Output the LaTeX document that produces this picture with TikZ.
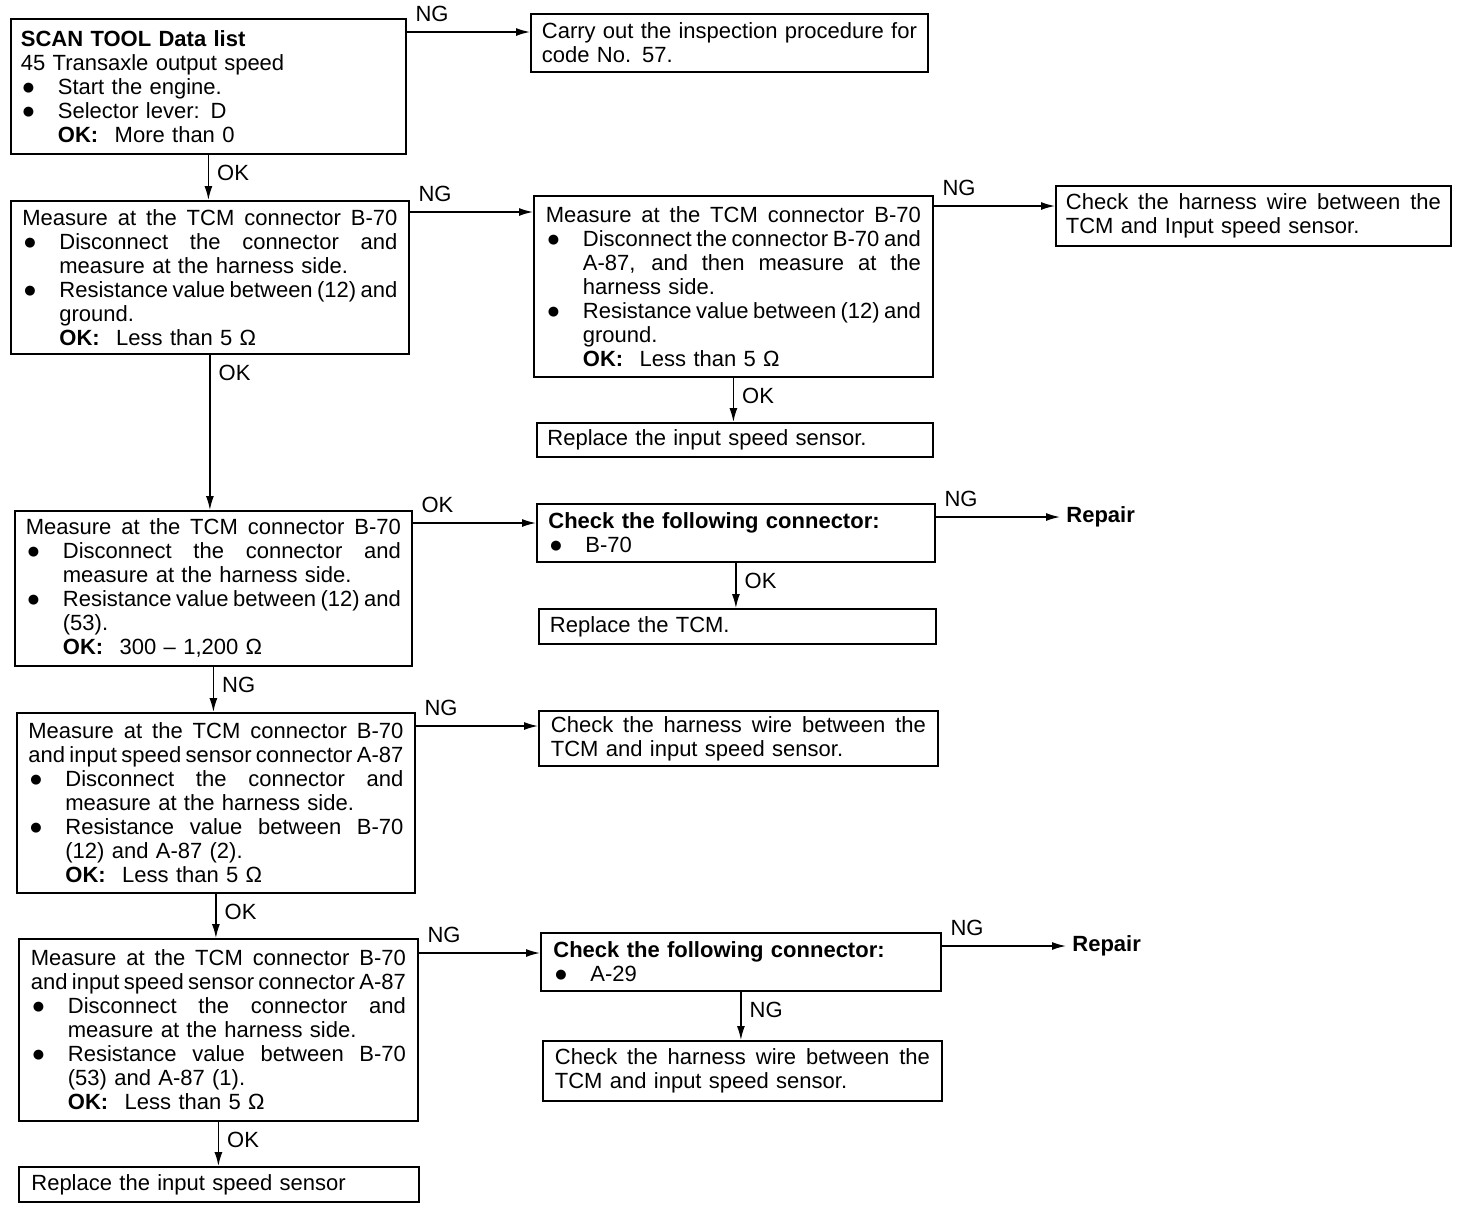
\documentclass[tikz,border=0pt]{standalone}
\usepackage{fontspec}
\setmainfont{Liberation Sans}
\newfontfamily\mydejavu{DejaVu Sans}
\usetikzlibrary{arrows.meta}
\newlength\mytw \setlength\mytw{187.5pt}
\newlength\myind \setlength\myind{18.5pt}
\newlength\mybw \setlength\mybw{169pt}
\newcommand\myjsk{\spaceskip=0.278em plus 1.5em minus 0.16em\relax}
\newcommand\mybul{\makebox[\myind][l]{\hspace{1pt}\raisebox{1.5pt}{\mydejavu\fontsize{6.5}{7}\selectfont ●}}}
\newcommand\myFJ[1]{{\myjsk\makebox[\mytw][s]{#1}}}
\newcommand\myBJ[1]{\mybul{\myjsk\makebox[\mybw][s]{#1}}}
\newcommand\myBL[1]{\mybul#1}
\newcommand\myIJ[1]{\hspace*{\myind}{\myjsk\makebox[\mybw][s]{#1}}}
\newcommand\myIL[1]{\hspace*{\myind}#1}
\newcommand\myOK[1]{\hspace*{\myind}\textbf{OK:}\hspace{0.75em}#1}
\begin{document}
\begin{tikzpicture}[x=0.5pt,y=-0.5pt,
  font=\fontsize{11}{12}\selectfont,
  box/.style={draw, line width=0.9pt, inner xsep=5pt, inner ysep=0pt,
    text width=187.5pt, align=left, anchor=north west},
  arr/.style={line width=0.75pt, -{Latex[length=7pt,width=4pt]}},
  hl/.style={pos=0, anchor=south west, inner sep=0pt, xshift=4pt, yshift=5pt},
  vl/.style={pos=0, anchor=north west, inner sep=0pt, xshift=4pt, yshift=-5pt},
  rep/.style={anchor=west, inner xsep=3pt}]
\useasboundingbox (0,0) rectangle (1472,1212);
\fill[white] (0,0) rectangle (1472,1212);

% left column
\node[box, minimum width=197.5pt, minimum height=67.5pt] (b1) at (10,18)
 {\textbf{SCAN TOOL Data list}\\45 Transaxle output speed\\\myBL{Start the engine.}\\\myBL{Selector lever: D}\\\myOK{More than 0}};
\node[box, minimum width=199pt, minimum height=76.5pt] (b2) at (10,200)
 {\myFJ{Measure at the TCM connector B-70}\\\myBJ{Disconnect the connector and}\\\myIL{measure at the harness side.}\\\myBJ{Resistance value between (12) and}\\\myIL{ground.}\\\myOK{Less than 5 Ω}};
\node[box, minimum width=198.5pt, minimum height=77.5pt] (b6) at (14,510)
 {\myFJ{Measure at the TCM connector B-70}\\\myBJ{Disconnect the connector and}\\\myIL{measure at the harness side.}\\\myBJ{Resistance value between (12) and}\\\myIL{(53).}\\\myOK{300 – 1,200 Ω}};
\node[box, minimum width=199pt, minimum height=90pt] (b9) at (16,712)
 {\myFJ{Measure at the TCM connector B-70}\\\myFJ{and input speed sensor connector A-87}\\\myBJ{Disconnect the connector and}\\\myIL{measure at the harness side.}\\\myBJ{Resistance value between B-70}\\\myIL{(12) and A-87 (2).}\\\myOK{Less than 5 Ω}};
\node[box, minimum width=199.5pt, minimum height=91pt] (b11) at (18,938)
 {\myFJ{Measure at the TCM connector B-70}\\\myFJ{and input speed sensor connector A-87}\\\myBJ{Disconnect the connector and}\\\myIL{measure at the harness side.}\\\myBJ{Resistance value between B-70}\\\myIL{(53) and A-87 (1).}\\\myOK{Less than 5 Ω}};
\node[box, minimum width=200pt, minimum height=17.5pt] (b14) at (18,1166)
 {Replace the input speed sensor};

% middle column
\node[box, minimum width=198.5pt, minimum height=29pt] (c1) at (530,13)
 {\myFJ{Carry out the inspection procedure for}\\code No. 57.};
\node[box, minimum width=199.5pt, minimum height=90.5pt] (b3) at (533,195)
 {\myFJ{Measure at the TCM connector B-70}\\\myBJ{Disconnect the connector B-70 and}\\\myIJ{A-87, and then measure at the}\\\myIL{harness side.}\\\myBJ{Resistance value between (12) and}\\\myIL{ground.}\\\myOK{Less than 5 Ω}};
\node[box, minimum width=198pt, minimum height=17pt] (b5) at (536,422)
 {Replace the input speed sensor.};
\node[box, minimum width=199pt, minimum height=29pt] (b7) at (536,503)
 {\textbf{Check the following connector:}\\\myBL{B-70}};
\node[box, minimum width=198.5pt, minimum height=17.5pt] (b8) at (538,608)
 {Replace the TCM.};
\node[box, minimum width=199.5pt, minimum height=27.5pt] (b10) at (538,710)
 {\myFJ{Check the harness wire between the}\\TCM and input speed sensor.};
\node[box, minimum width=200pt, minimum height=29pt] (b12) at (540,932)
 {\textbf{Check the following connector:}\\\myBL{A-29}};
\node[box, minimum width=199.5pt, minimum height=30pt] (b13) at (542,1040)
 {\myFJ{Check the harness wire between the}\\TCM and input speed sensor.};

% right column
\node[box, minimum width=196.5pt, minimum height=30pt] (b4) at (1055,185)
 {\myFJ{Check the harness wire between the}\\TCM and Input speed sensor.};
\node[rep] (r1) at (1060,517) {\textbf{Repair}};
\node[rep] (r2) at (1066,946) {\textbf{Repair}};

% horizontal connectors
\coordinate (h1) at (0,32);
\coordinate (h2) at (0,212);
\coordinate (h3) at (0,206);
\coordinate (h4) at (0,523);
\coordinate (h6) at (0,726);
\coordinate (h7) at (0,953);
\draw[arr] (b1.east |- h1) -- node[hl]{NG} (c1.west |- h1);
\draw[arr] (b2.east |- h2) -- node[hl]{NG} (b3.west |- h2);
\draw[arr] (b3.east |- h3) -- node[hl]{NG} (b4.west |- h3);
\draw[arr] (b6.east |- h4) -- node[hl]{OK} (b7.west |- h4);
\draw[arr] (b7.east |- r1.west) -- node[hl]{NG} (r1.west);
\draw[arr] (b9.east |- h6) -- node[hl]{NG} (b10.west |- h6);
\draw[arr] (b11.east |- h7) -- node[hl]{NG} (b12.west |- h7);
\draw[arr] (b12.east |- r2.west) -- node[hl]{NG} (r2.west);

% vertical connectors
\draw[arr] (b1.south) -- node[vl]{OK} (b1.south |- b2.north);
\draw[arr] (b2.south) -- node[vl]{OK} (b2.south |- b6.north);
\draw[arr] (b6.south) -- node[vl]{NG} (b6.south |- b9.north);
\draw[arr] (b9.south) -- node[vl]{OK} (b9.south |- b11.north);
\draw[arr] (b11.south) -- node[vl]{OK} (b11.south |- b14.north);
\draw[arr] (b3.south) -- node[vl]{OK} (b3.south |- b5.north);
\draw[arr] (b7.south) -- node[vl]{OK} (b7.south |- b8.north);
\draw[arr] (b12.south) -- node[vl]{NG} (b12.south |- b13.north);
\end{tikzpicture}
\end{document}
